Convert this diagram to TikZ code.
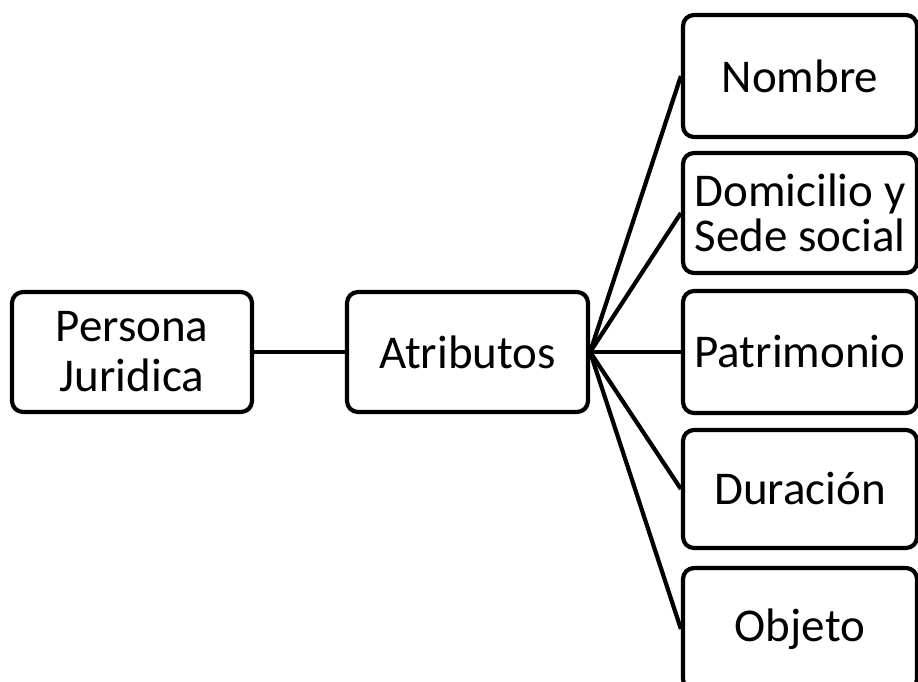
\documentclass[tikz,border=0pt]{standalone}
\usepackage{fontspec}
\setmainfont{Carlito}
\begin{document}
\begin{tikzpicture}[x=1pt,y=-1pt,
  box/.style={draw=black, line width=4.2pt, rounded corners=11pt, fill=white,
    minimum width=#1, minimum height=120pt, inner sep=0pt, align=center,
    font=\fontsize{47}{47}\selectfont},
  box/.default=234pt,
  link/.style={draw=black, line width=4.2pt}]
\useasboundingbox (0,0) rectangle (918,682);
\node[box=240pt, font=\fontsize{47}{50}\selectfont] (pj) at (132,352) {Persona\\Juridica};
\node[box=241pt] (at) at (467.5,352) {Atributos};
\node[box, minimum height=122pt] (n1) at (800,76) {Nombre};
\node[box, font=\fontsize{47}{45}\selectfont] (n2) at (800,213) {Domicilio y\\Sede social};
\node[box, minimum height=122pt] (n3) at (800,352) {Patrimonio};
\node[box, minimum height=118pt] (n4) at (800,489) {Duración};
\node[box, minimum height=122pt] (n5) at (800,629) {Objeto};
\draw[link] (pj.east) -- (at.west);
\foreach \n in {n1,n2,n3,n4,n5}{\draw[link] (at.east) -- (\n.west);}
\end{tikzpicture}
\end{document}
